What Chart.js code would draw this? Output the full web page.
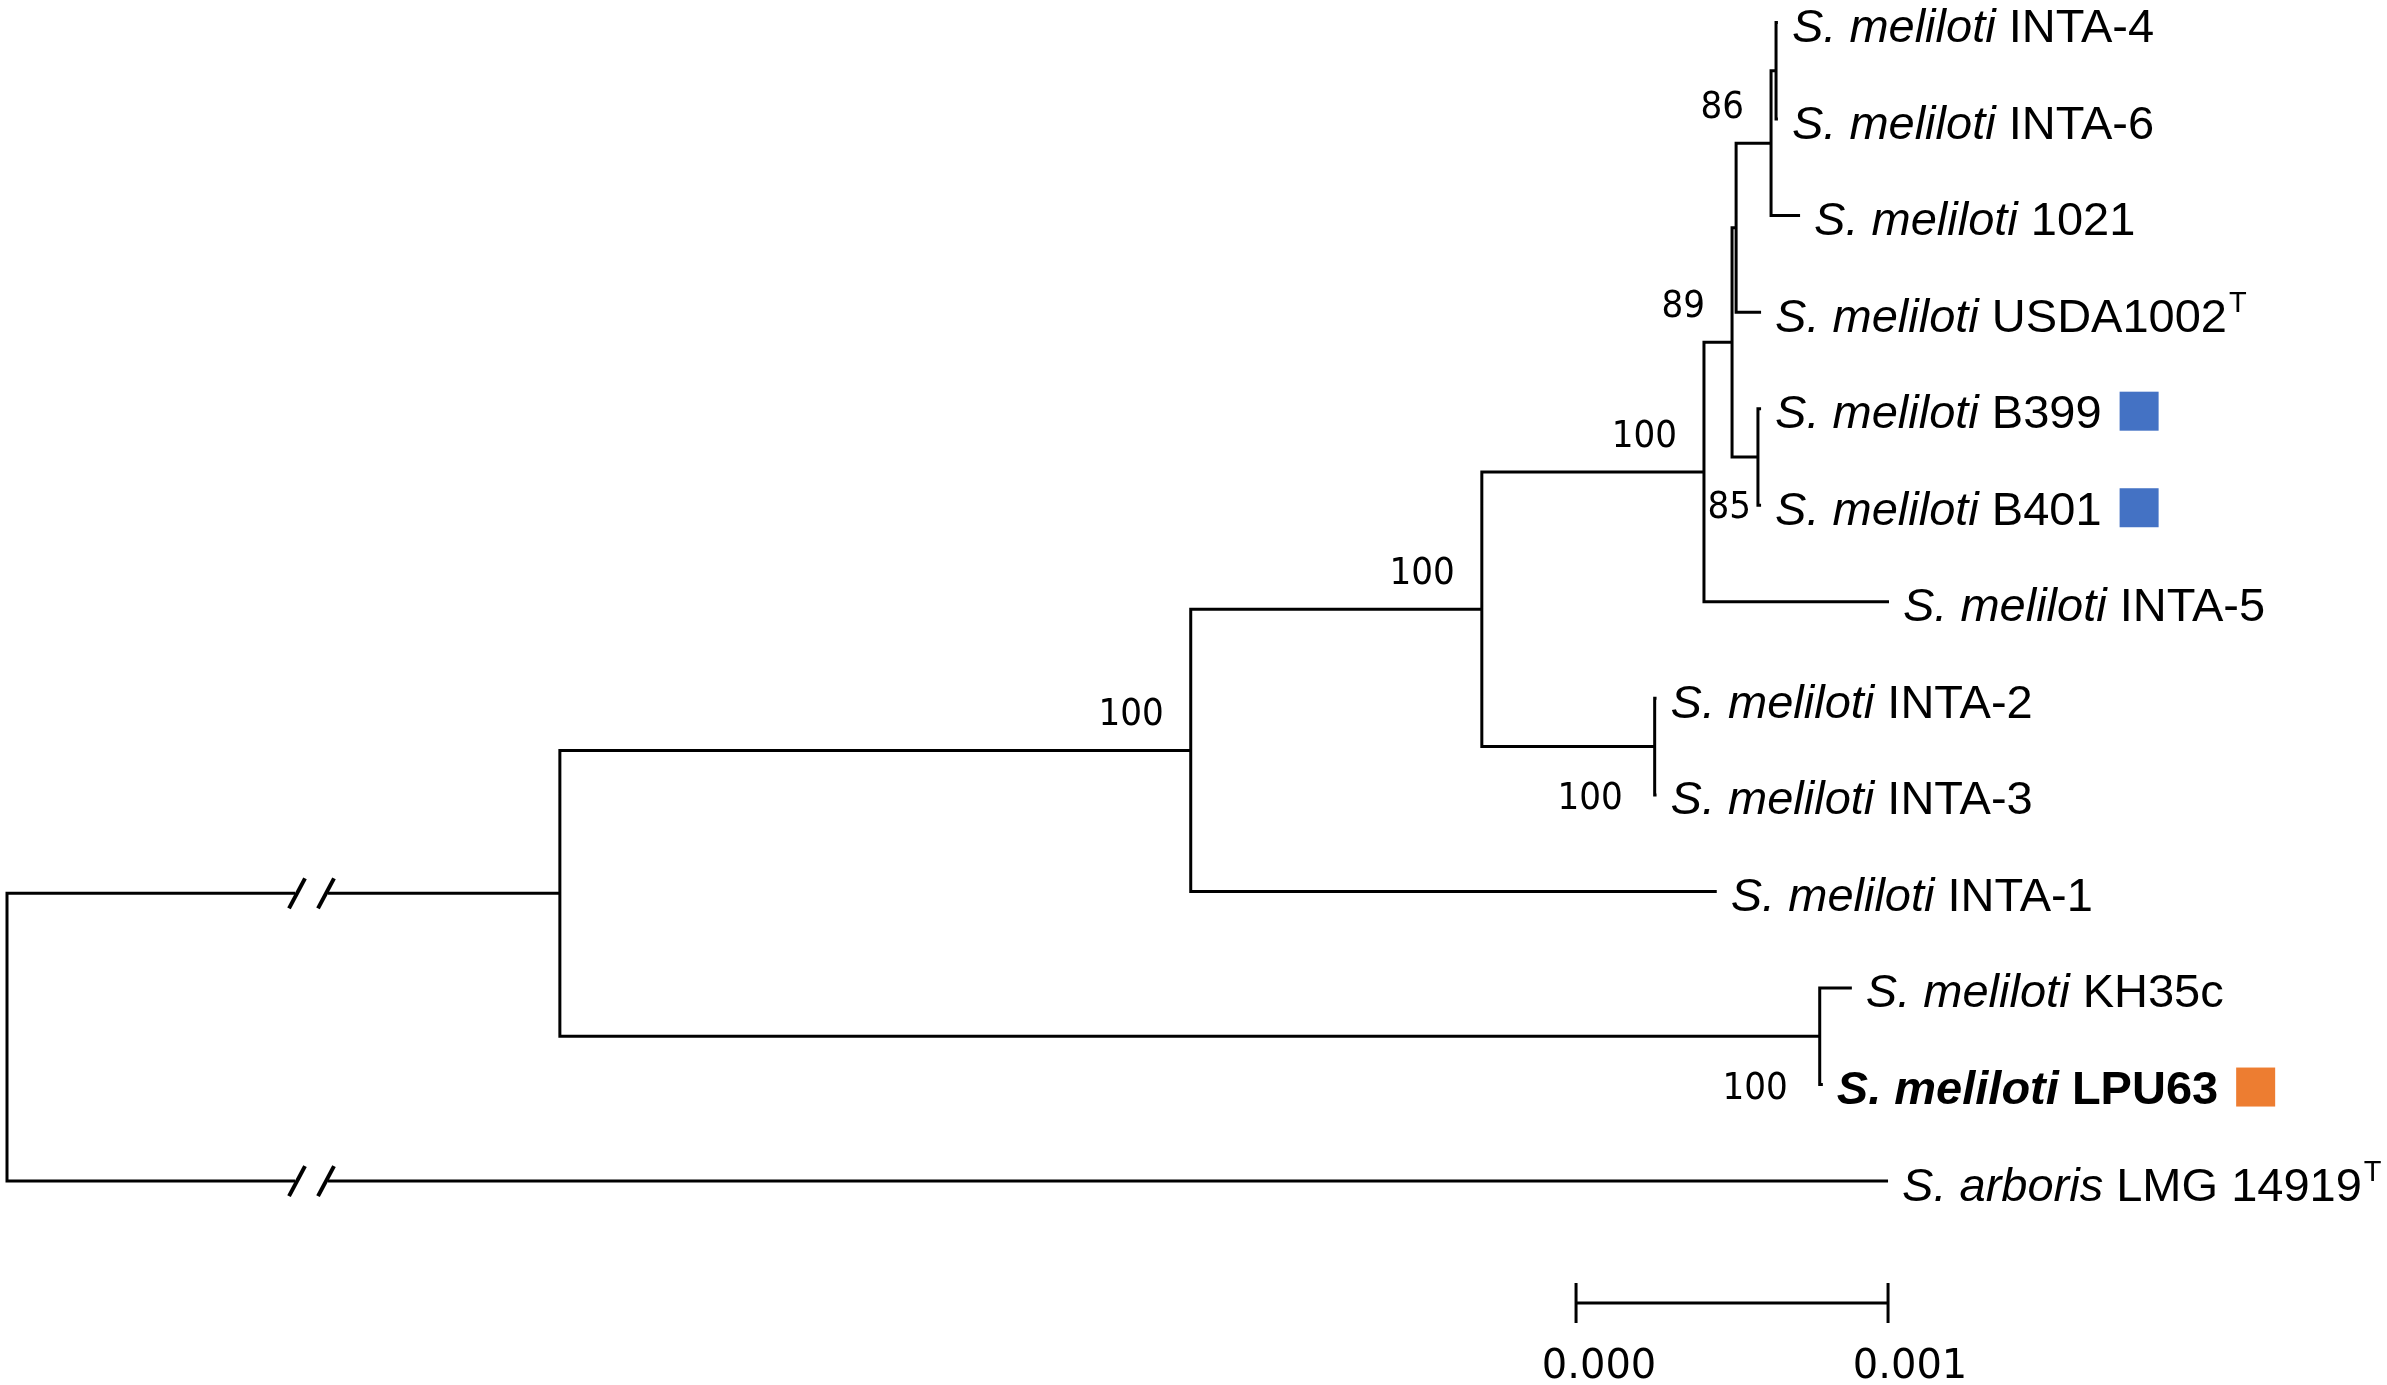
<!DOCTYPE html>
<html>
<head>
<meta charset="utf-8">
<title>S. meliloti tree</title>
<script src="https://cdn.jsdelivr.net/npm/chart.js@4.4.1/dist/chart.umd.min.js"></script>
<style>
  html, body { margin: 0; padding: 0; background: #fff; }
  #wrap { width: 2387px; height: 1385px; position: relative; }
</style>
</head>
<body>
<div id="wrap"><canvas id="tree"></canvas></div>
<script>
// leaves, top to bottom (row index = position in these arrays)
const genus = ["S. meliloti", "S. meliloti", "S. meliloti", "S. meliloti", "S. meliloti", "S. meliloti",
  "S. meliloti", "S. meliloti", "S. meliloti", "S. meliloti", "S. meliloti", "S. meliloti", "S. arboris"];
const strain = ["INTA-4", "INTA-6", "1021", "USDA1002", "B399", "B401", "INTA-5",
  "INTA-2", "INTA-3", "INTA-1", "KH35c", "LPU63", "LMG 14919"];
const typeStrain = [false, false, false, true, false, false, false, false, false, false, false, false, true];
const boldLeaf = [false, false, false, false, false, false, false, false, false, false, false, true, false];
const markerColor = [null, null, null, null, "#4472C4", "#4472C4", null, null, null, null, null, "#ED7D31", null];

// internal nodes: 0 root, parent index always lower than child
const nodeParent = [-1, 0, 1, 2, 3, 4, 5, 6, 7, 5, 3, 1];
const nodeLength = [0, 0.001772, 0.002022, 0.000933, 0.000712, 0.00009, 0.000013, 0.000112, 0.000016, 0.000083, 0.000554, 0.004038];
const bootstrap = [null, null, 100, 100, 100, 89, null, 86, null, 85, 100, 100];

// leaf attachments and branch lengths
const leafParent = [8, 8, 7, 6, 9, 9, 4, 10, 10, 2, 11, 11, 0];
const leafLength = [0.000006, 0.000006, 0.000093, 0.00008, 0.00001, 0.00001, 0.000593,
  0.000006, 0.000006, 0.001686, 0.000103, 0.00001, 0.006029];

// compressed branches (root -> node 1, root -> S. arboris)
const breakAt = 0.000976;
const brokenNodes = [1];
const brokenLeaves = [12];

// scale bar
const scaleBarStart = 0.005029;
const scaleBarLength = 0.001;
const scaleBarLabels = ["0.000", "0.001"];

// ---- layout of the tree ----
const nodeX = nodeParent.map(() => 0);
for (let i = 1; i < nodeParent.length; i++) nodeX[i] = nodeX[nodeParent[i]] + nodeLength[i];
const leafX = leafLength.map((l, i) => nodeX[leafParent[i]] + l);

const children = nodeParent.map(() => []);
nodeParent.forEach((p, i) => { if (p >= 0) children[p].push({ node: i }); });
leafParent.forEach((p, i) => children[p].push({ leaf: i }));

const nodeY = nodeParent.map(() => 0);
const childPos = c => c.leaf !== undefined ? { x: leafX[c.leaf], y: c.leaf } : { x: nodeX[c.node], y: nodeY[c.node] };
for (let i = nodeParent.length - 1; i >= 0; i--) {
  const ys = children[i].map(c => childPos(c).y);
  nodeY[i] = (Math.min(...ys) + Math.max(...ys)) / 2;
}

// one bracket per internal node, gaps between them
const branchPoints = [];
for (let i = 0; i < nodeParent.length; i++) {
  const pts = children[i].map(childPos).sort((a, b) => a.y - b.y);
  const top = pts[0], bot = pts[pts.length - 1];
  branchPoints.push({ x: top.x, y: top.y }, { x: nodeX[i], y: top.y },
    { x: nodeX[i], y: bot.y }, { x: bot.x, y: bot.y }, { x: bot.x, y: null });
}

const LEAF_FONT = '"Liberation Sans", Arial, sans-serif';
const NUM_FONT = '"DejaVu Sans", Verdana, sans-serif';

const treeDecor = {
  id: 'treeDecor',
  afterDatasetsDraw(chart) {
    const { ctx, scales: { x, y } } = chart;
    ctx.save();
    ctx.fillStyle = '#000';
    ctx.strokeStyle = '#000';

    // break marks
    const bx = x.getPixelForValue(breakAt);
    const breakRows = brokenNodes.map(n => nodeY[n]).concat(brokenLeaves);
    breakRows.forEach(r => {
      const py = y.getPixelForValue(r);
      ctx.fillStyle = '#fff';
      ctx.fillRect(bx - 16.5, py - 3, 33, 6);
      ctx.lineWidth = 4;
      [-14.5, 14.5].forEach(d => {
        ctx.beginPath();
        ctx.moveTo(bx + d - 8, py + 15);
        ctx.lineTo(bx + d + 8, py - 15);
        ctx.stroke();
      });
    });
    ctx.fillStyle = '#000';

    // leaf labels
    ctx.textAlign = 'left';
    ctx.textBaseline = 'alphabetic';
    strain.forEach((s, i) => {
      const px = x.getPixelForValue(leafX[i]) + 14;
      const base = y.getPixelForValue(i) + 19.5;
      const w = boldLeaf[i] ? 'bold ' : '';
      ctx.font = `italic ${w}47px ${LEAF_FONT}`;
      ctx.fillText(genus[i], px, base);
      let cx = px + ctx.measureText(genus[i]).width;
      ctx.font = `${w}47px ${LEAF_FONT}`;
      cx += ctx.measureText(' ').width;
      ctx.fillText(s, cx, base);
      cx += ctx.measureText(s).width;
      if (typeStrain[i]) {
        ctx.font = `29px ${LEAF_FONT}`;
        ctx.fillText('T', cx + 2, base - 19.5);
        cx += 2 + ctx.measureText('T').width;
      }
      if (markerColor[i]) {
        ctx.fillStyle = markerColor[i];
        ctx.fillRect(cx + 18, y.getPixelForValue(i) - 17, 39, 39);
        ctx.fillStyle = '#000';
      }
    });

    // bootstrap values
    ctx.textAlign = 'right';
    bootstrap.forEach((b, n) => {
      if (b === null) return;
      const nx = x.getPixelForValue(nodeX[n]);
      const ys = children[n].map(c => childPos(c).y);
      let tx, base;
      if (n === 9) {
        tx = nx - 7; base = y.getPixelForValue(Math.max(...ys)) + 13;
      } else if (n === 10 || n === 11) {
        tx = nx - 32; base = y.getPixelForValue(Math.max(...ys)) + 14;
      } else {
        tx = nx - 27; base = y.getPixelForValue(nodeY[n]) - 25;
      }
      ctx.save();
      ctx.translate(tx, base);
      ctx.scale(0.9, 1);
      ctx.font = `38px ${NUM_FONT}`;
      ctx.fillText(String(b), 0, 0);
      ctx.restore();
    });

    // scale bar
    const sy = y.getPixelForValue(strain.length - 1) + 122;
    const s0 = x.getPixelForValue(scaleBarStart);
    const s1 = x.getPixelForValue(scaleBarStart + scaleBarLength);
    ctx.lineWidth = 3;
    ctx.beginPath();
    ctx.moveTo(s0, sy); ctx.lineTo(s1, sy);
    ctx.moveTo(s0, sy - 20); ctx.lineTo(s0, sy + 20);
    ctx.moveTo(s1, sy - 20); ctx.lineTo(s1, sy + 20);
    ctx.stroke();
    ctx.textAlign = 'center';
    ctx.font = `40px ${NUM_FONT}`;
    ctx.fillText(scaleBarLabels[0], s0 + 23, sy + 75);
    ctx.fillText(scaleBarLabels[1], s1 + 22, sy + 75);

    ctx.restore();
  }
};

const ctx = document.getElementById('tree');

new Chart(ctx, {
  type: 'scatter',
  data: {
    datasets: [{
      data: branchPoints,
      showLine: true,
      spanGaps: false,
      borderColor: '#000',
      borderWidth: 3,
      borderJoinStyle: 'miter',
      borderCapStyle: 'butt',
      pointRadius: 0,
      clip: false,
    }],
  },
  options: {
    responsive: true,
    maintainAspectRatio: false,
    animation: false,
    events: [],
    layout: { padding: 0 },
    plugins: {
      legend: { display: false },
      tooltip: { enabled: false },
    },
    scales: {
      x: { type: 'linear', display: false, min: -0.00002244, max: 0.0076282 },
      y: { type: 'linear', display: false, reverse: true, min: -0.233, max: 14.112 },
    },
  },
  plugins: [treeDecor],
});
</script>
</body>
</html>
